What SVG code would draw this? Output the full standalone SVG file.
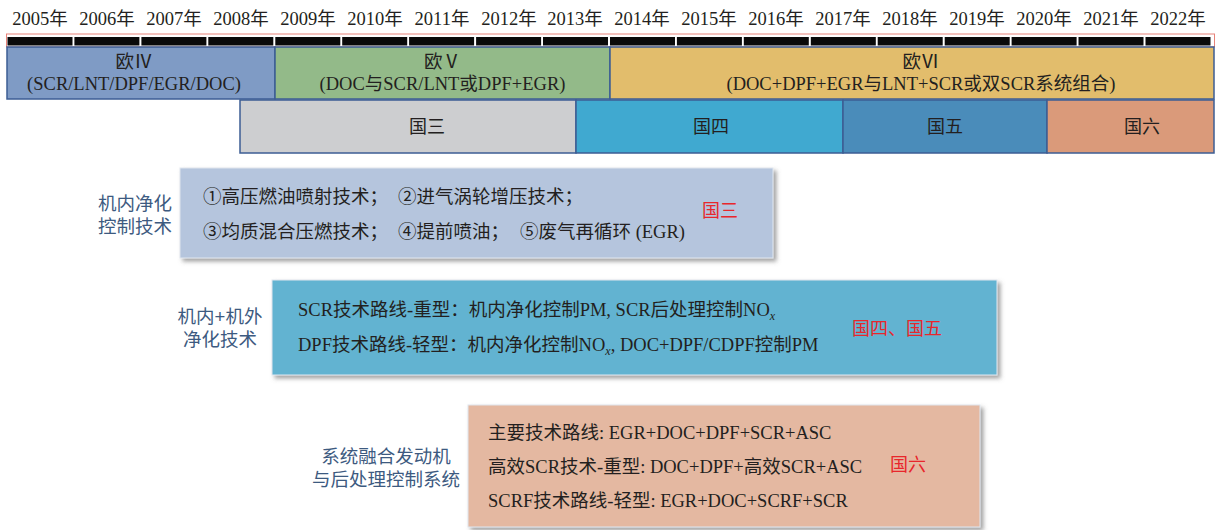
<svg xmlns="http://www.w3.org/2000/svg" width="1216" height="530" viewBox="0 0 1216 530">
<defs>
<style>
.t{font-family:"Liberation Serif","Noto Sans CJK SC",serif;font-size:18.5px;fill:#231f20}
.c{text-anchor:middle}
.red{font-family:"Liberation Serif","Noto Sans CJK SC",serif;font-size:18px;fill:#e8262b}
.lab{font-family:"Liberation Sans","Noto Sans CJK SC",sans-serif;font-size:18.5px;fill:#3d5a80;text-anchor:middle}
.sub{font-size:12px;font-style:italic}
.seg{fill:#0a0a0a}
.bar{stroke:#3d5d94;stroke-width:1.5}
.box{filter:url(#sh);stroke:#dfe6ee;stroke-width:1}
</style>
<filter id="sh" x="-5%" y="-10%" width="115%" height="130%">
<feDropShadow dx="3" dy="3" stdDeviation="2" flood-color="#666" flood-opacity="0.6"/>
</filter>
</defs>
<rect width="1216" height="530" fill="#fff"/>

<g id="timeline">
<rect x="6.5" y="34" width="1208" height="13" fill="none" stroke="#e8837a" stroke-width="1"/>
<g class="seg">
<rect x="7.5" y="37" width="65" height="8.5"/><rect x="74.4" y="37" width="65" height="8.5"/><rect x="141.4" y="37" width="65" height="8.5"/><rect x="208.3" y="37" width="65" height="8.5"/><rect x="275.3" y="37" width="65" height="8.5"/><rect x="342.2" y="37" width="65" height="8.5"/><rect x="409.1" y="37" width="65" height="8.5"/><rect x="476.1" y="37" width="65" height="8.5"/><rect x="543" y="37" width="65" height="8.5"/><rect x="610" y="37" width="65" height="8.5"/><rect x="676.9" y="37" width="65" height="8.5"/><rect x="743.8" y="37" width="65" height="8.5"/><rect x="810.8" y="37" width="65" height="8.5"/><rect x="877.7" y="37" width="65" height="8.5"/><rect x="944.7" y="37" width="65" height="8.5"/><rect x="1011.6" y="37" width="65" height="8.5"/><rect x="1078.5" y="37" width="65" height="8.5"/><rect x="1145.5" y="37" width="65" height="8.5"/>
</g>
<g class="t c">
<text x="40" y="25">2005年</text><text x="107" y="25">2006年</text><text x="174" y="25">2007年</text><text x="241" y="25">2008年</text><text x="308" y="25">2009年</text><text x="375" y="25">2010年</text><text x="442" y="25">2011年</text><text x="509" y="25">2012年</text><text x="575" y="25">2013年</text><text x="642" y="25">2014年</text><text x="709" y="25">2015年</text><text x="776" y="25">2016年</text><text x="843" y="25">2017年</text><text x="910" y="25">2018年</text><text x="977" y="25">2019年</text><text x="1044" y="25">2020年</text><text x="1111" y="25">2021年</text><text x="1178" y="25">2022年</text>
</g>
</g>

<g id="euro4">
<rect class="bar" x="7" y="47" width="268" height="52" fill="#7f9bc5"/>
<text class="t c" x="134" y="68">欧Ⅳ</text>
<text class="t c" x="134" y="90">(SCR/LNT/DPF/EGR/DOC)</text>
</g>
<g id="euro5">
<rect class="bar" x="275" y="47" width="335" height="52" fill="#93ba89"/>
<text class="t c" x="442.5" y="68">欧Ⅴ</text>
<text class="t c" x="442.5" y="90">(DOC与SCR/LNT或DPF+EGR)</text>
</g>
<g id="euro6">
<rect class="bar" x="610" y="47" width="604" height="52" fill="#e2bd6c"/>
<text class="t c" x="921" y="68">欧Ⅵ</text>
<text class="t c" x="921" y="90">(DOC+DPF+EGR与LNT+SCR或双SCR系统组合)</text>
</g>

<g id="guo3">
<rect class="bar" x="240" y="100" width="336" height="53" fill="#cdced0"/>
<text class="t c" x="427" y="133" style="font-size:18px">国三</text>
</g>
<g id="guo4">
<rect class="bar" x="576" y="100" width="267" height="53" fill="#40a9d0"/>
<text class="t c" x="711" y="133" style="font-size:18px">国四</text>
</g>
<g id="guo5">
<rect class="bar" x="843" y="100" width="204" height="53" fill="#4a8cba"/>
<text class="t c" x="945" y="133" style="font-size:18px">国五</text>
</g>
<g id="guo6">
<rect class="bar" x="1047" y="100" width="167" height="53" fill="#da9a7a"/>
<text class="t c" x="1142" y="133" style="font-size:18px">国六</text>
</g>

<g id="label1">
<text class="lab" x="135" y="210">机内净化</text>
<text class="lab" x="135" y="233">控制技术</text>
</g>
<g id="box1">
<rect class="box" x="180" y="168" width="593" height="90" fill="#b5c5dd"/>
<text class="t" x="203" y="203">①高压燃油喷射技术；</text>
<text class="t" x="398" y="203">②进气涡轮增压技术；</text>
<text class="t" x="203" y="238">③均质混合压燃技术；</text>
<text class="t" x="398" y="238">④提前喷油；</text>
<text class="t" x="520" y="238">⑤废气再循环 (EGR)</text>
<text class="red" x="702" y="217">国三</text>
</g>

<g id="label2">
<text class="lab" x="220" y="323">机内+机外</text>
<text class="lab" x="220" y="346">净化技术</text>
</g>
<g id="box2">
<rect class="box" x="272" y="280" width="725" height="95" fill="#62b3d1"/>
<text class="t" x="298" y="316">SCR技术路线-重型：机内净化控制PM, SCR后处理控制NO<tspan class="sub" dy="4">x</tspan></text>
<text class="t" x="298" y="351">DPF技术路线-轻型：机内净化控制NO<tspan class="sub" dy="4">x</tspan><tspan dy="-4">, DOC+DPF/CDPF控制PM</tspan></text>
<text class="red" x="852" y="335">国四、国五</text>
</g>

<g id="label3">
<text class="lab" x="386" y="463">系统融合发动机</text>
<text class="lab" x="386" y="486">与后处理控制系统</text>
</g>
<g id="box3">
<rect class="box" x="468" y="405" width="512" height="122" fill="#e4b8a1"/>
<text class="t" x="488" y="439">主要技术路线: EGR+DOC+DPF+SCR+ASC</text>
<text class="t" x="488" y="473">高效SCR技术-重型: DOC+DPF+高效SCR+ASC</text>
<text class="t" x="488" y="507">SCRF技术路线-轻型: EGR+DOC+SCRF+SCR</text>
<text class="red" x="890" y="471">国六</text>
</g>
</svg>
